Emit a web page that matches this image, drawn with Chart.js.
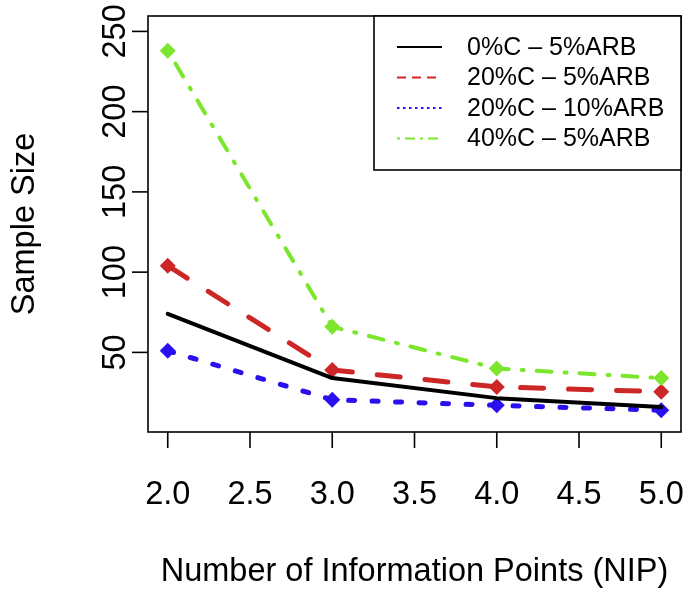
<!DOCTYPE html>
<html>
<head>
<meta charset="utf-8">
<script src="https://cdn.jsdelivr.net/npm/chart.js@4.4.1/dist/chart.umd.min.js"></script>
<style>
  html, body { margin: 0; padding: 0; background: #fff; }
  #wrap { position: relative; width: 693px; height: 590px; }
</style>
</head>
<body>
<div id="wrap"><canvas id="chart" width="693" height="590"></canvas></div>
<script>
// data
const nip = [2, 3, 4, 5];
const xTicks = [2.0, 2.5, 3.0, 3.5, 4.0, 4.5, 5.0];
const yTicks = [50, 100, 150, 200, 250];
const seriesNames = ['0%C \u2013 5%ARB', '20%C \u2013 5%ARB', '20%C \u2013 10%ARB', '40%C \u2013 5%ARB'];
const c0_arb5 = [74, 34, 21.5, 16];
const c20_arb5 = [104, 39, 28.5, 25.5];
const c20_arb10 = [51, 20.5, 17, 14];
const c40_arb5 = [238, 66, 40, 34];

const FONT = '"Liberation Sans", Arial, Helvetica, sans-serif';
const BLACK = '#000000';
const RED = '#cd2626';
const BLUE = '#2a10ee';
const GREEN = '#7ce62c';

// line style per series: plot dash + legend dash
const styles = [
    { color: BLACK, width: 4, dash: [], legendDash: [], points: false },
    { color: RED, width: 5, dash: [23, 25], legendDash: [9, 6], points: true },
    { color: BLUE, width: 5, dash: [6, 17.5], legendDash: [2.5, 3.5], points: true },
    { color: GREEN, width: 4, dash: [2, 13, 15, 13], legendDash: [3, 5, 10, 5], points: true },
];

const allSeries = [c0_arb5, c20_arb5, c20_arb10, c40_arb5];

const datasets = allSeries.map((vals, i) => ({
    label: seriesNames[i],
    data: vals.map((v, j) => ({ x: nip[j], y: v })),
    borderColor: styles[i].color,
    backgroundColor: styles[i].color,
    borderWidth: styles[i].width,
    borderDash: styles[i].dash,
    borderCapStyle: 'round',
    borderJoinStyle: 'round',
    pointStyle: 'rectRot',
    pointRadius: styles[i].points ? 8 : 0,
    pointBorderWidth: 0,
    pointBackgroundColor: styles[i].color,
    tension: 0,
    fill: false,
    order: i === 0 ? 0 : 4 - i,
}));

// R-style axes, box and legend drawn from the chart's own scales
const baseAxes = {
    id: 'baseAxes',
    afterDraw(chart) {
        const ctx = chart.ctx;
        const area = chart.chartArea;
        const xs = chart.scales.x;
        const ys = chart.scales.y;
        ctx.save();
        ctx.strokeStyle = '#000';
        ctx.fillStyle = '#000';
        ctx.lineWidth = 1.6;
        ctx.setLineDash([]);
        ctx.strokeRect(area.left, area.top, area.right - area.left, area.bottom - area.top);

        // x ticks and labels
        ctx.font = '32.5px ' + FONT;
        ctx.textAlign = 'center';
        ctx.textBaseline = 'alphabetic';
        xTicks.forEach((t) => {
            const px = xs.getPixelForValue(t);
            ctx.beginPath();
            ctx.moveTo(px, area.bottom);
            ctx.lineTo(px, area.bottom + 16);
            ctx.stroke();
            ctx.fillText(t.toFixed(1), px, 504);
        });
        ctx.fillText('Number of Information Points (NIP)', (area.left + area.right) / 2, 581);

        // y ticks and rotated labels
        yTicks.forEach((t) => {
            const py = ys.getPixelForValue(t);
            ctx.beginPath();
            ctx.moveTo(area.left, py);
            ctx.lineTo(area.left - 16, py);
            ctx.stroke();
            ctx.save();
            ctx.translate(125, py);
            ctx.rotate(-Math.PI / 2);
            ctx.fillText(String(t), 0, 0);
            ctx.restore();
        });
        ctx.save();
        ctx.translate(34, (area.top + area.bottom) / 2);
        ctx.rotate(-Math.PI / 2);
        ctx.fillText('Sample Size', 0, 0);
        ctx.restore();

        // legend box, top-right
        const lx = 374, ly = area.top, lw = area.right - lx, lh = 154;
        ctx.fillStyle = '#fff';
        ctx.fillRect(lx, ly, lw, lh);
        ctx.strokeRect(lx, ly, lw, lh);
        ctx.font = '25px ' + FONT;
        ctx.textAlign = 'left';
        ctx.textBaseline = 'middle';
        chart.data.datasets.forEach((ds, i) => {
            const ry = 47 + i * 30.5;
            ctx.strokeStyle = styles[i].color;
            ctx.lineWidth = 2;
            ctx.lineCap = 'butt';
            ctx.setLineDash(styles[i].legendDash);
            ctx.beginPath();
            ctx.moveTo(397, ry);
            ctx.lineTo(442, ry);
            ctx.stroke();
            ctx.setLineDash([]);
            ctx.fillStyle = '#000';
            ctx.fillText(ds.label, 467, ry + 1);
        });
        ctx.restore();
    },
};

new Chart(document.getElementById('chart'), {
    type: 'line',
    data: { datasets },
    options: {
        responsive: false,
        animation: false,
        events: [],
        layout: { padding: { left: 148, right: 12, top: 16, bottom: 158 } },
        scales: {
            x: { type: 'linear', min: 1.88, max: 5.12, display: false },
            y: { type: 'linear', min: 0.4, max: 259.6, display: false },
        },
        plugins: {
            legend: { display: false },
            tooltip: { enabled: false },
        },
    },
    plugins: [baseAxes],
});
</script>
</body>
</html>
